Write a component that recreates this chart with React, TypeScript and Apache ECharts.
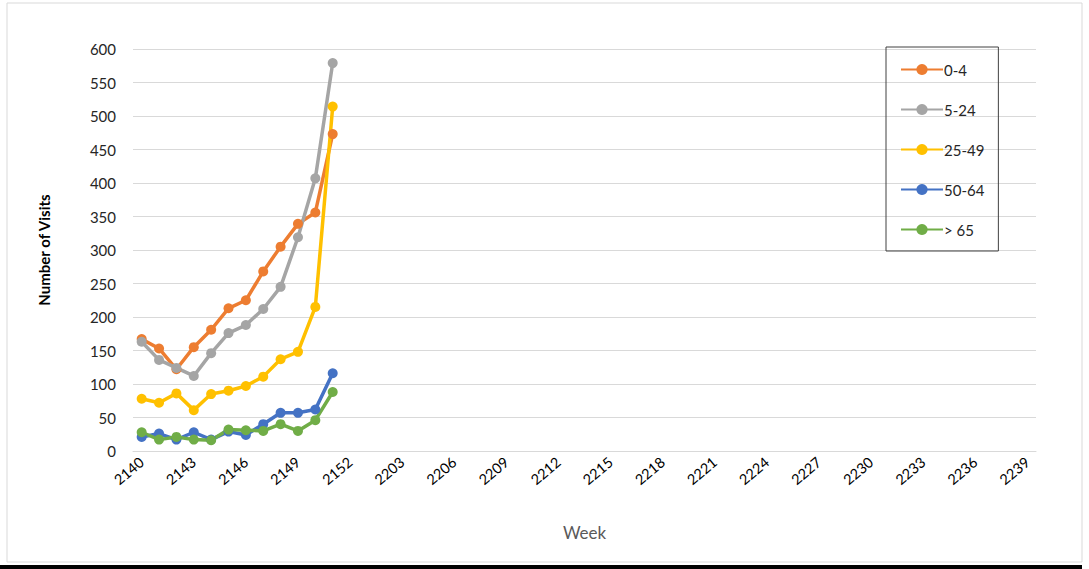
import React, { useEffect, useRef } from "react";
import * as echarts from "echarts";

const weeks2021: string[] = ["2140","2141","2142","2143","2144","2145","2146","2147","2148","2149","2150","2151","2152"];
const weeks2022: string[] = ["2201","2202","2203","2204","2205","2206","2207","2208","2209","2210","2211","2212","2213","2214","2215","2216","2217","2218","2219","2220","2221","2222","2223","2224","2225","2226","2227","2228","2229","2230","2231","2232","2233","2234","2235","2236","2237","2238","2239"];
const categories: string[] = [...weeks2021, ...weeks2022];

const age0to4: number[] = [167, 153, 122, 155, 181, 213, 225, 268, 305, 339, 356, 473];
const age5to24: number[] = [163, 136, 124, 112, 146, 176, 188, 212, 245, 319, 407, 579];
const age25to49: number[] = [78, 72, 86, 61, 85, 90, 97, 111, 137, 148, 215, 514];
const age50to64: number[] = [21, 26, 17, 28, 17, 29, 24, 40, 57, 57, 62, 116];
const age65plus: number[] = [28, 17, 21, 17, 16, 32, 31, 30, 40, 30, 46, 88];

const seriesNames: string[] = ["0-4", "5-24", "25-49", "50-64", "> 65"];
const seriesColors: string[] = ["#ED7D31", "#A5A5A5", "#FFC000", "#4472C4", "#70AD47"];
const seriesData: number[][] = [age0to4, age5to24, age25to49, age50to64, age65plus];

const FONT = "Lato, 'Open Sans', sans-serif";

export default function App() {
  const ref = useRef<HTMLDivElement>(null);
  useEffect(() => {
    if (!ref.current) return;
    const chart = echarts.init(ref.current, null, { renderer: "svg" });
    chart.setOption({
      animation: false,
      backgroundColor: "#ffffff",
      textStyle: { fontFamily: FONT },
      grid: { left: 133, right: 53, top: 49, bottom: 118 },
      graphic: [
        {
          type: "rect",
          shape: { x: 7, y: 3, width: 1075, height: 559 },
          style: { fill: "none", stroke: "#D9D9D9", lineWidth: 1 },
          silent: true,
        },
        {
          type: "rect",
          shape: { x: 0, y: 565, width: 1082, height: 4 },
          style: { fill: "#000000" },
          silent: true,
        },
      ],
      legend: {
        orient: "vertical",
        left: 886,
        top: 47,
        padding: [15, 14, 14, 14],
        itemGap: 25,
        itemWidth: 42,
        itemHeight: 14,
        borderColor: "#404040",
        borderWidth: 1,
        textStyle: { fontFamily: FONT, fontSize: 15, color: "#262626", padding: [0, 0, 0, -4] },
        data: seriesNames,
      },
      xAxis: {
        type: "category",
        data: categories,
        boundaryGap: true,
        name: "Week",
        nameLocation: "middle",
        nameGap: 73,
        nameTextStyle: { fontFamily: FONT, fontSize: 17, color: "#595959" },
        axisLine: { show: true, lineStyle: { color: "#D9D9D9", width: 1 } },
        axisTick: { show: false },
        axisLabel: {
          interval: 2,
          rotate: 40,
          fontFamily: FONT,
          fontSize: 14.5,
          color: "#000000",
          margin: 9,
        },
        splitLine: { show: false },
      },
      yAxis: {
        type: "value",
        min: 0,
        max: 600,
        interval: 50,
        name: "Number of Visits",
        nameLocation: "middle",
        nameGap: 82,
        nameRotate: 90,
        nameTextStyle: { fontFamily: FONT, fontSize: 15, fontWeight: "bold", color: "#000000" },
        axisLine: { show: false },
        axisTick: { show: false },
        axisLabel: { fontFamily: FONT, fontSize: 15, color: "#262626", margin: 17 },
        splitLine: { lineStyle: { color: "#D9D9D9", width: 1 } },
      },
      series: seriesNames.map((name, i) => ({
        name,
        type: "line",
        data: seriesData[i],
        symbol: "circle",
        symbolSize: 10,
        lineStyle: { color: seriesColors[i], width: 3.5 },
        itemStyle: { color: seriesColors[i] },
      })),
    });
    return () => chart.dispose();
  }, []);
  return <div ref={ref} style={{ width: 1089, height: 569, position: "absolute", left: 0, top: 0 }} />;
}
